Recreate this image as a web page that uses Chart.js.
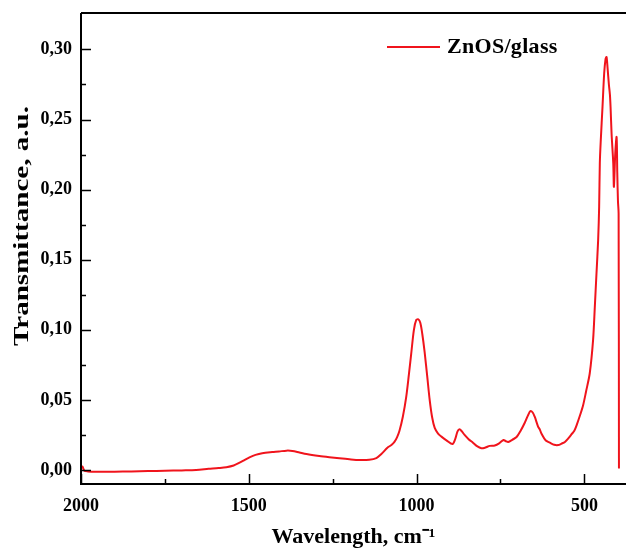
<!DOCTYPE html>
<html>
<head>
<meta charset="utf-8">
<script src="https://cdn.jsdelivr.net/npm/chart.js@4.4.0/dist/chart.umd.min.js"></script>
<style>
  html, body { margin: 0; padding: 0; background: #fff; }
  canvas { display: block; }
</style>
</head>
<body>
<canvas id="spectrum" width="626" height="553"></canvas>
<script>
'use strict';

// wavenumber, cm-1
const wavenumbers = [
  2000, 1996, 1990, 1980, 1950, 1900, 1850, 1800, 1750, 1700, 1657, 1620, 1590, 1567, 1545,
  1529, 1512, 1498, 1480, 1460, 1430, 1410, 1388, 1370, 1349, 1328, 1290, 1260, 1230, 1200,
  1170, 1141, 1120, 1105, 1087, 1075, 1066, 1058, 1051, 1041, 1031, 1023, 1016, 1008, 1001,
  995, 989, 983, 976, 968, 961, 954, 946, 936, 926, 910, 893, 885, 878, 872,
  865, 857, 845, 832, 820, 807, 795, 782, 767, 754, 741, 734, 727, 715, 702,
  690, 678, 668, 661, 654, 648, 638, 633, 628, 615, 603, 590, 578, 568, 558,
  548, 538, 530, 523, 513, 504, 495, 484, 474, 469, 464, 459, 456, 454, 451,
  446, 441, 437, 434, 431, 427, 424, 422, 419, 414, 412, 408, 404, 402, 400,
  398, 397
];

// transmittance, a.u.
const transmittance = [
  0.002, 0.0025, -0.0005, -0.001, -0.0012, -0.0012, -0.001, -0.0008, -0.0006, -0.0003, 0.000, 0.0008, 0.0014, 0.002, 0.0032,
  0.005, 0.0072, 0.009, 0.0108, 0.012, 0.0128, 0.0132, 0.0138, 0.0136, 0.0125, 0.0114, 0.0100, 0.0091, 0.0083, 0.0076,
  0.0071, 0.0073, 0.0085, 0.0114, 0.0159, 0.0178, 0.0200, 0.0235, 0.028, 0.038, 0.052, 0.068, 0.083, 0.100, 0.107,
  0.1075, 0.105, 0.097, 0.084, 0.066, 0.050, 0.038, 0.030, 0.026, 0.0238, 0.021, 0.0185, 0.022, 0.0275, 0.029,
  0.0275, 0.025, 0.022, 0.0195, 0.017, 0.0155, 0.016, 0.0172, 0.0175, 0.019, 0.0214, 0.0205, 0.020, 0.0215, 0.0235,
  0.028, 0.0335, 0.039, 0.042, 0.041, 0.038, 0.031, 0.029, 0.026, 0.021, 0.0195, 0.018, 0.0178, 0.0188, 0.020,
  0.0225, 0.0255, 0.028, 0.032, 0.039, 0.046, 0.056, 0.069, 0.093, 0.116, 0.140, 0.164, 0.188, 0.219, 0.236,
  0.259, 0.283, 0.293, 0.2946, 0.287, 0.275, 0.268, 0.259, 0.240, 0.219, 0.202, 0.226, 0.2375, 0.212, 0.192,
  0.183, 0.001
];

const seriesLabel = 'ZnOS/glass';
const yTitle = 'Transmittance, a.u.';
const xTicks = [2000, 1750, 1500, 1250, 1000, 750, 500];
const xLabelled = [2000, 1500, 1000, 500];
const yTicks = [0, 0.025, 0.05, 0.075, 0.10, 0.125, 0.15, 0.175, 0.20, 0.225, 0.25, 0.275, 0.30];
const yLabelled = [0, 0.05, 0.10, 0.15, 0.20, 0.25, 0.30];

const RED = '#f0141c';
const FONT = "'Liberation Serif', 'Times New Roman', serif";

const isLabelled = (list, v) => list.some(t => Math.abs(t - v) < 1e-6);

// frame, inward ticks (major / minor), y title and the legend
const framePlugin = {
  id: 'frame',
  afterDraw(chart) {
    const { ctx, chartArea: a, scales: { x, y } } = chart;
    ctx.save();
    ctx.strokeStyle = '#000';
    ctx.lineWidth = 2;
    ctx.beginPath();
    ctx.moveTo(a.left, a.top);
    ctx.lineTo(a.right, a.top);
    ctx.moveTo(a.left, a.top);
    ctx.lineTo(a.left, a.bottom);
    ctx.lineTo(a.right, a.bottom);
    ctx.stroke();

    ctx.lineWidth = 1.5;
    ctx.beginPath();
    xTicks.forEach(v => {
      const px = Math.round(x.getPixelForValue(v)) + 0.5;
      const len = isLabelled(xLabelled, v) ? 10 : 5;
      ctx.moveTo(px, a.bottom);
      ctx.lineTo(px, a.bottom - len);
    });
    yTicks.forEach(v => {
      const py = Math.round(y.getPixelForValue(v)) + 0.5;
      const len = isLabelled(yLabelled, v) ? 10 : 5;
      ctx.moveTo(a.left, py);
      ctx.lineTo(a.left + len, py);
    });
    ctx.stroke();

    // y title, stretched along its length like the original
    ctx.save();
    ctx.translate(22, a.top + 213);
    ctx.rotate(-Math.PI / 2);
    ctx.scale(1.32, 1);
    ctx.fillStyle = '#000';
    ctx.font = `bold 22px ${FONT}`;
    ctx.textAlign = 'center';
    ctx.textBaseline = 'middle';
    ctx.fillText(yTitle, 0, 0);
    ctx.restore();

    // legend, top right inside the plot
    const ds = chart.data.datasets[0];
    const ly = a.top + 34;
    ctx.strokeStyle = ds.borderColor;
    ctx.lineWidth = 2;
    ctx.beginPath();
    ctx.moveTo(a.left + 306, ly);
    ctx.lineTo(a.left + 359, ly);
    ctx.stroke();
    ctx.fillStyle = '#000';
    ctx.font = `bold 22px ${FONT}`;
    ctx.letterSpacing = '0.3px';
    ctx.textBaseline = 'middle';
    ctx.textAlign = 'left';
    ctx.fillText(ds.label, a.left + 366, ly);
    ctx.restore();
  }
};

new Chart(document.getElementById('spectrum'), {
  type: 'line',
  data: {
    datasets: [{
      label: seriesLabel,
      data: wavenumbers.map((w, i) => ({ x: w, y: transmittance[i] })),
      borderColor: RED,
      borderWidth: 2,
      pointRadius: 0,
      tension: 0.3,
      fill: false
    }]
  },
  options: {
    responsive: false,
    animation: false,
    layout: { padding: { top: 13, right: 0, left: 0, bottom: 0 } },
    plugins: {
      legend: { display: false },
      tooltip: { enabled: false }
    },
    scales: {
      x: {
        type: 'linear',
        reverse: true,
        min: 376,
        max: 2000,
        afterBuildTicks: s => { s.ticks = xTicks.map(v => ({ value: v })); },
        afterFit: s => { s.height = 69; s.paddingLeft = 0; s.paddingRight = 0; },
        grid: { display: false, drawTicks: false },
        border: { display: false },
        ticks: {
          padding: 12,
          color: '#000',
          font: { family: FONT, size: 18, weight: 'bold' },
          maxRotation: 0,
          callback: v => isLabelled(xLabelled, v) ? String(v) : ''
        },
        title: {
          display: true,
          text: 'Wavelength, cm\u207B\u00B9',
          color: '#000',
          font: { family: FONT, size: 22, weight: 'bold' },
          padding: { top: 0, bottom: 2 }
        }
      },
      y: {
        min: -0.01,
        max: 0.326,
        afterBuildTicks: s => { s.ticks = yTicks.map(v => ({ value: v })); },
        afterFit: s => { s.width = 81; s.paddingTop = 0; s.paddingBottom = 0; },
        grid: { display: false, drawTicks: false },
        border: { display: false },
        ticks: {
          padding: 9,
          color: '#000',
          font: { family: FONT, size: 18, weight: 'bold' },
          callback: v => isLabelled(yLabelled, v) ? v.toFixed(2).replace('.', ',') : ''
        },
        title: { display: false }
      }
    }
  },
  plugins: [framePlugin]
});
</script>
</body>
</html>
